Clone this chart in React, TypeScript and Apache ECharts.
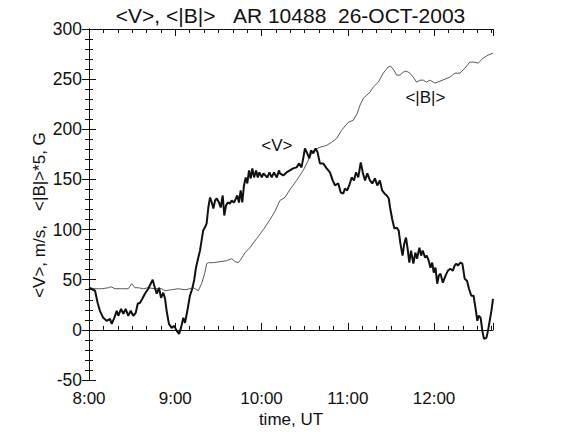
import React, { useEffect, useRef } from "react";
import * as echarts from "echarts";

// time in minutes after 8:00 UT
const vTime = [0, 4.2, 6.0, 7.6, 9.9, 12.3, 14.6, 15.8, 17.6, 19.3, 20.4, 22.3, 23.9, 25.5, 27.3, 29.0, 30.8, 32.5, 33.9, 35.5, 37.1, 38.9, 41.2, 42.9, 44.3, 45.4, 47.1, 48.7, 50.1, 51.7, 52.9, 54.0, 55.6, 57.5, 59.3, 61.0, 62.6, 64.0, 65.6, 66.8, 68.4, 70.2, 71.8, 73.2, 74.4, 76.0, 77.2, 78.3, 79.4, 80.6, 81.8, 83.0, 84.2, 85.4, 86.5, 87.7, 88.9, 90.4, 91.6, 93.0, 94.1, 95.3, 96.5, 98.1, 99.2, 100.8, 102.2, 103.1, 104.3, 105.5, 106.6, 107.8, 109.0, 110.1, 111.3, 112.5, 113.6, 114.8, 116.2, 117.4, 118.5, 120.2, 121.3, 122.7, 124.1, 125.5, 127.1, 128.7, 130.6, 132.2, 132.8, 135.1, 137.4, 139.7, 142.0, 144.4, 146.2, 147.8, 149.0, 150.2, 151.8, 153.2, 154.4, 156.0, 157.6, 159.0, 160.6, 162.9, 165.3, 167.6, 169.5, 171.1, 173.4, 175.1, 176.9, 178.0, 179.6, 181.0, 182.7, 184.3, 185.7, 187.3, 189.0, 190.4, 192.0, 193.6, 195.4, 197.0, 198.9, 200.5, 202.3, 203.9, 205.5, 207.1, 208.5, 209.4, 210.8, 212.4, 214.0, 215.4, 216.5, 218.1, 219.3, 220.5, 221.6, 222.8, 224.0, 225.6, 227.0, 228.2, 229.8, 231.0, 232.1, 233.8, 234.9, 236.3, 237.5, 238.7, 239.8, 241.0, 242.2, 243.3, 244.5, 246.1, 248.0, 249.6, 251.3, 253.1, 254.3, 255.5, 256.6, 258.3, 259.7, 261.3, 262.9, 264.3, 265.9, 267.5, 268.9, 270.1, 271.0, 272.4, 273.6, 274.7, 276.4, 277.5, 278.7, 279.9, 281.0];
// <V>, m/s
const vValues = [42, 39, 27, 19, 12, 9, 11, 6, 12, 19, 14, 21, 16, 21, 14, 19, 14, 17, 26, 27, 31, 36, 41, 46, 50, 44, 36, 42, 32, 37, 31, 19, 6, 2, 4, -1, -4, 2, 12, 7, 19, 34, 41, 50, 62, 72, 79, 89, 99, 102, 106, 122, 132, 127, 121, 129, 131, 127, 122, 134, 114, 124, 127, 126, 129, 127, 131, 134, 127, 139, 127, 144, 152, 146, 159, 151, 161, 152, 159, 152, 157, 152, 156, 154, 152, 157, 152, 157, 152, 159, 156, 154, 157, 159, 161, 162, 166, 162, 171, 181, 176, 171, 179, 176, 181, 177, 166, 166, 161, 157, 149, 144, 146, 137, 136, 141, 139, 144, 152, 149, 157, 152, 167, 157, 149, 156, 149, 146, 151, 144, 149, 139, 136, 134, 131, 122, 111, 101, 102, 99, 87, 74, 86, 92, 81, 67, 79, 66, 77, 71, 82, 74, 79, 72, 74, 69, 62, 67, 57, 62, 46, 54, 56, 47, 54, 59, 61, 59, 64, 66, 64, 67, 66, 51, 49, 41, 34, 34, 21, 9, 14, 12, -1, -9, -8, -1, 9, 19, 31];

const bTime = [0, 4.2, 8.9, 13.5, 15.3, 18.1, 22.7, 27.3, 29.7, 32.0, 34.3, 37.8, 41.2, 45.9, 50.5, 52.9, 57.5, 62.1, 66.8, 70.2, 72.5, 73.7, 76.0, 78.3, 80.6, 81.8, 83.0, 86.5, 91.2, 95.8, 99.3, 101.6, 103.9, 105.0, 107.3, 108.5, 112.0, 116.6, 121.3, 125.9, 129.3, 132.8, 136.3, 139.8, 144.4, 149.0, 152.5, 156.0, 160.6, 165.3, 168.8, 172.3, 175.7, 180.3, 183.8, 186.6, 188.5, 190.8, 195.4, 197.7, 201.2, 204.7, 208.1, 209.8, 212.1, 214.0, 216.3, 218.6, 220.9, 223.2, 225.5, 227.9, 230.2, 232.5, 234.8, 237.1, 240.6, 244.1, 247.6, 251.0, 254.5, 258.0, 261.5, 264.9, 267.7, 270.7, 274.2, 277.7, 281.0];
// <|B|>*5, G
const bValues = [42, 41, 41, 42, 43, 41, 41, 41, 46, 42, 42, 41, 42, 41, 41, 39, 40, 41, 40, 41, 42, 41, 39, 46, 57, 66, 67, 67, 68, 69, 71, 68, 67, 69, 74, 77, 82, 91, 100, 110, 118, 129, 132, 140, 149, 159, 169, 179, 182, 184, 187, 191, 199, 207, 209, 216, 224, 231, 237, 242, 247, 256, 262, 263, 259, 254, 254, 257, 258, 256, 252, 247, 249, 249, 247, 249, 246, 248, 250, 252, 256, 256, 261, 267, 267, 266, 271, 274, 276];

const xMin = 0;
const xMax = 281;
const yMin = -50;
const yMax = 300;
const titleText = "<V>, <|B|>\u00a0\u00a0\u00a0AR 10488\u00a0\u00a026-OCT-2003";
const yTitle = "<V>, m/s,\u00a0\u00a0\u00a0<|B|>*5, G";
const xTitle = "time, UT";
const vLabel = { text: "<V>", t: 130.7, v: 184 };
const bLabel = { text: "<|B|>", t: 234, v: 232 };

const FONT = "'Liberation Sans', Arial, Helvetica, sans-serif";
const INK = "#111";

function xAxisDef(position: string, interval: number, len: number, labels: boolean, line: boolean) {
  return {
    type: "value",
    position,
    min: xMin,
    max: xMax,
    interval,
    axisLine: { show: line, lineStyle: { color: INK, width: 1 } },
    axisTick: { show: true, inside: true, length: len, lineStyle: { color: INK, width: 1 } },
    axisLabel: {
      show: labels,
      fontFamily: FONT,
      fontSize: 17,
      color: INK,
      margin: 10,
      formatter: (v: number) => (Math.abs(v % 60) < 1e-6 ? `${8 + v / 60}:00` : ""),
    },
    splitLine: { show: false },
  };
}

function yAxisDef(position: string, labels: boolean) {
  return {
    type: "value",
    position,
    min: yMin,
    max: yMax,
    interval: 50,
    axisLine: { show: true, lineStyle: { color: INK, width: 1 } },
    axisTick: { show: true, inside: true, length: 7, lineStyle: { color: INK, width: 1 } },
    minorTick: { show: true, splitNumber: 5, length: 4, lineStyle: { color: INK, width: 1 } },
    axisLabel: { show: labels, fontFamily: FONT, fontSize: 17.5, color: INK, margin: 7 },
    splitLine: { show: false },
    minorSplitLine: { show: false },
  };
}

export default function App() {
  const ref = useRef<HTMLDivElement>(null);
  useEffect(() => {
    if (!ref.current) return;
    const chart = echarts.init(ref.current, null, { renderer: "svg" });
    const vData = vTime.map((t, i) => [t, vValues[i]]);
    const bData = bTime.map((t, i) => [t, bValues[i]]);
    chart.setOption({
      animation: false,
      backgroundColor: "#fff",
      textStyle: { fontFamily: FONT },
      title: {
        text: titleText,
        left: "center",
        top: 0,
        textStyle: { fontFamily: FONT, fontSize: 21, fontWeight: "normal", color: INK },
      },
      grid: { left: 89, top: 29, width: 404, height: 351, containLabel: false, outerBoundsMode: "none" },
      xAxis: [
        xAxisDef("bottom", 60, 7, true, true),
        xAxisDef("bottom", 10, 4, false, false),
        xAxisDef("top", 60, 7, false, true),
        xAxisDef("top", 10, 4, false, false),
      ],
      yAxis: [yAxisDef("left", true), yAxisDef("right", false)],
      series: [
        {
          type: "line",
          name: "<|B|>",
          data: bData,
          xAxisIndex: 0,
          yAxisIndex: 0,
          showSymbol: false,
          symbol: "none",
          lineStyle: { color: "#5a5a5a", width: 1 },
          markPoint: {
            symbol: "circle",
            symbolSize: 0,
            data: [{ coord: [bLabel.t, bLabel.v] }],
            label: { show: true, position: "inside", formatter: bLabel.text, fontFamily: FONT, fontSize: 17, color: INK },
          },
        },
        {
          type: "line",
          name: "<V>",
          data: vData,
          xAxisIndex: 0,
          yAxisIndex: 0,
          showSymbol: false,
          symbol: "none",
          lineStyle: { color: "#111", width: 2 },
          markPoint: {
            symbol: "circle",
            symbolSize: 0,
            data: [{ coord: [vLabel.t, vLabel.v] }],
            label: { show: true, position: "inside", formatter: vLabel.text, fontFamily: FONT, fontSize: 17, color: INK },
          },
        },
      ],
      graphic: [
        {
          type: "text",
          x: 39,
          y: 215,
          rotation: Math.PI / 2,
          style: { text: yTitle, fontFamily: FONT, fontSize: 17, fill: INK, textAlign: "center", textVerticalAlign: "middle" },
        },
        {
          type: "text",
          x: 291,
          y: 419,
          style: { text: xTitle, fontFamily: FONT, fontSize: 17, fill: INK, textAlign: "center", textVerticalAlign: "middle" },
        },
      ],
    });
    return () => chart.dispose();
  }, []);
  return <div ref={ref} style={{ position: "fixed", left: 0, top: 0, width: 581, height: 437, background: "#fff" }} />;
}
